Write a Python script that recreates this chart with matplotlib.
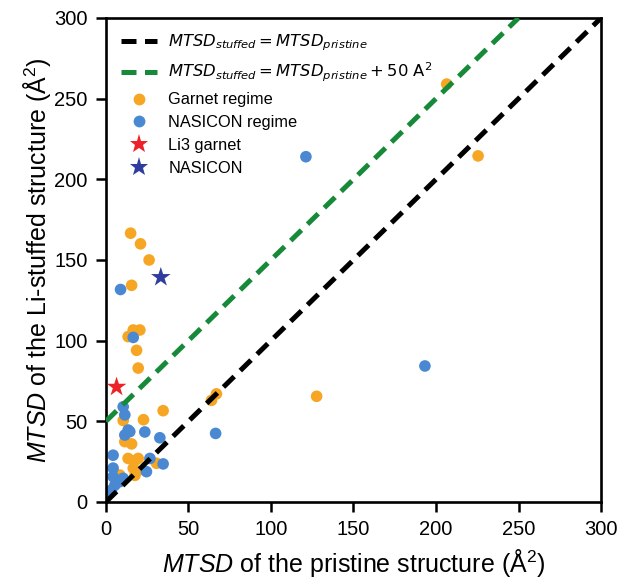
import matplotlib
matplotlib.use("Agg")
import matplotlib.pyplot as plt
from matplotlib.lines import Line2D
from matplotlib.font_manager import FontProperties

plt.rcParams['font.family'] = ['Liberation Sans', 'DejaVu Sans']
plt.rcParams['mathtext.fontset'] = 'dejavusans'
plt.rcParams['mathtext.rm'] = 'Liberation Sans'
plt.rcParams['mathtext.it'] = 'Liberation Sans:italic'
plt.rcParams['mathtext.bf'] = 'Liberation Sans:bold'

# Data (MTSD pristine, MTSD stuffed) in Å^2
garnet_x = [206.5, 225.5, 15.0, 21.0, 26.2, 15.6, 13.5, 16.6, 20.6, 18.6, 19.6,
            127.7, 64.0, 67.0, 34.7, 22.8, 10.5, 11.5, 15.6, 13.5, 17.6, 19.6,
            30.7, 16.6, 18.6, 17.6, 8.5]
garnet_y = [259.0, 214.5, 166.6, 160.0, 150.0, 134.3, 102.5, 106.6, 106.6, 94.0, 83.0,
            65.5, 63.0, 67.0, 56.6, 51.0, 50.5, 37.4, 36.0, 27.0, 25.5, 27.0,
            24.0, 20.9, 18.8, 16.5, 16.7]
nasicon_x = [121.2, 193.3, 8.9, 16.6, 10.5, 11.5, 13.5, 11.5, 14.5, 23.6, 32.7,
             66.5, 4.4, 26.7, 34.7, 4.4, 24.6, 4.4, 5.5, 3.4, 8.5, 10.5, 1.4]
nasicon_y = [214.0, 84.3, 131.7, 102.0, 59.0, 54.0, 44.6, 41.5, 43.6, 43.4, 39.8,
             42.5, 29.0, 27.0, 23.6, 21.0, 18.8, 15.7, 10.5, 7.4, 12.6, 14.7, 5.4]
li3_garnet = (6.5, 71.3)
nasicon_ref = (33.3, 139.3)
offset = 50
ticks = [0, 50, 100, 150, 200, 250, 300]

c_orange = '#F6A623'
c_blue = '#4A89D2'
c_red = '#EC2228'
c_navy = '#2F3E9E'
c_green = '#178A3A'

dash = (3.0, 1.7)
lw = 3.6

fig = plt.figure(figsize=(6.19, 5.79), dpi=100)
ax = fig.add_axes([0.171, 0.133, 0.800, 0.836])

ax.scatter(garnet_x, garnet_y, s=70, color=c_orange, edgecolors='none', zorder=2)
ax.scatter(nasicon_x, nasicon_y, s=70, color=c_blue, edgecolors='none', zorder=2)
ax.scatter([li3_garnet[0]], [li3_garnet[1]], s=220, marker='*', color=c_red,
           edgecolors='none', zorder=3)
ax.scatter([nasicon_ref[0]], [nasicon_ref[1]], s=220, marker='*', color=c_navy,
           edgecolors='none', zorder=3)

ax.plot([0, 300], [0, 300], color='black', lw=lw, dashes=dash, zorder=4)
ax.plot([0, 300 - offset], [offset, 300], color=c_green, lw=lw, dashes=dash, zorder=4)

ax.set_xlim(0, 300)
ax.set_ylim(0, 300)
ax.set_xticks(ticks)
ax.set_yticks(ticks)
ax.tick_params(labelsize=14.5, width=1.8, length=7, direction='out')
ax.tick_params(axis='x', pad=6)
ax.tick_params(axis='y', pad=6)
for sp in ax.spines.values():
    sp.set_linewidth(1.9)

lab_fp = FontProperties(family='Liberation Sans', size=18, math_fontfamily='custom')
ax.set_xlabel(r'$MTSD$ of the pristine structure (Å$^2$)', fontproperties=lab_fp, labelpad=6)
ax.set_ylabel(r'$MTSD$ of the Li-stuffed structure (Å$^2$)', fontproperties=lab_fp, labelpad=1)

handles = [
    Line2D([], [], color='black', lw=lw, dashes=dash),
    Line2D([], [], color=c_green, lw=lw, dashes=dash),
    Line2D([], [], marker='o', ls='none', color=c_orange, markersize=8.5, markeredgewidth=0),
    Line2D([], [], marker='o', ls='none', color=c_blue, markersize=8.5, markeredgewidth=0),
    Line2D([], [], marker='*', ls='none', color=c_red, markersize=14, markeredgewidth=0),
    Line2D([], [], marker='*', ls='none', color=c_navy, markersize=14, markeredgewidth=0),
]
labels = [
    r'$MTSD_{stuffed} = MTSD_{pristine}$',
    r'$MTSD_{stuffed} = MTSD_{pristine} + 50\ \mathrm{A}^2$',
    'Garnet regime', 'NASICON regime', 'Li3 garnet', 'NASICON',
]
leg = ax.legend(handles, labels, loc='upper left', frameon=False, fontsize=11.8,
                handlelength=2.2, borderaxespad=0.5, labelspacing=0.48,
                handletextpad=0.7)

fig.savefig('out.png', dpi=100)
